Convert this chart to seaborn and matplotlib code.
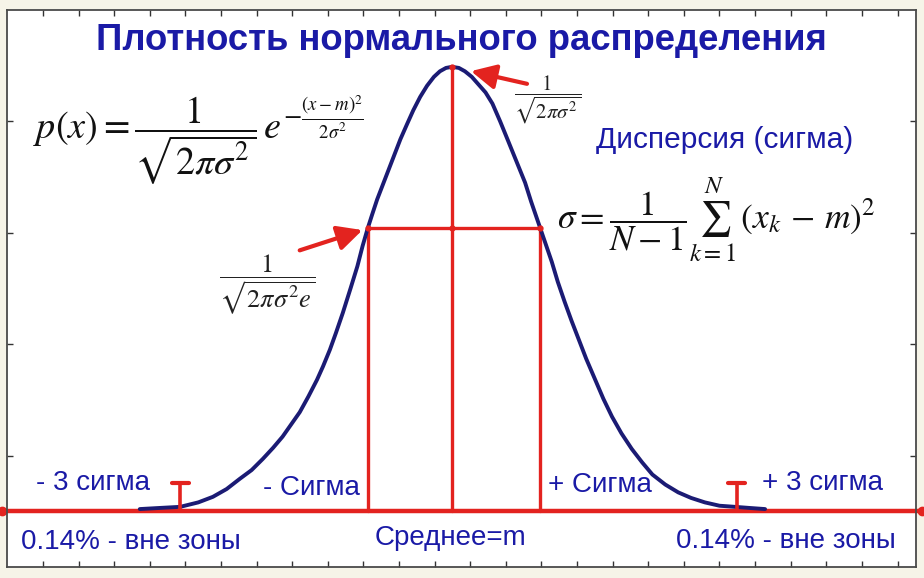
import numpy as np
import pandas as pd
import seaborn as sns
import matplotlib
matplotlib.use('Agg')
import matplotlib.pyplot as plt

sns.set_theme(style='white')
plt.rcParams['font.family'] = ['Liberation Sans', 'DejaVu Sans']
plt.rcParams['mathtext.fontset'] = 'stix'

# curve: x in sigma units around m, y = density
curve_x = [-3.63, -3.40, -3.16, -2.95, -2.78, -2.62, -2.47, -2.33, -2.20, -2.08,
           -1.97, -1.87, -1.77, -1.67, -1.57, -1.50, -1.42, -1.35, -1.27, -1.18,
           -1.10, -1.04, -0.98, -0.93, -0.87, -0.81, -0.76, -0.68, -0.60, -0.52,
           -0.45, -0.37, -0.29, -0.21, -0.14, -0.07, 0.00, 0.08, 0.15, 0.23,
           0.31, 0.39, 0.47, 0.56, 0.65, 0.75, 0.85, 0.92, 1.00, 1.08,
           1.16, 1.23, 1.31, 1.39, 1.47, 1.56, 1.66, 1.76, 1.86, 1.97,
           2.09, 2.21, 2.33, 2.48, 2.63, 2.78, 2.94, 3.11, 3.29, 3.46, 3.64]
curve_y = [0.002, 0.003, 0.004, 0.008, 0.013, 0.020, 0.029, 0.037, 0.047, 0.057,
           0.067, 0.078, 0.089, 0.103, 0.118, 0.130, 0.145, 0.160, 0.178, 0.200,
           0.220, 0.238, 0.254, 0.266, 0.280, 0.292, 0.302, 0.318, 0.334, 0.348,
           0.360, 0.372, 0.382, 0.390, 0.395, 0.398, 0.399, 0.398, 0.395, 0.390,
           0.383, 0.376, 0.366, 0.350, 0.333, 0.314, 0.295, 0.278, 0.260, 0.242,
           0.224, 0.206, 0.188, 0.171, 0.155, 0.137, 0.119, 0.101, 0.085, 0.070,
           0.056, 0.044, 0.033, 0.024, 0.017, 0.012, 0.008, 0.005, 0.004, 0.003, 0.002]

peak_x, peak_y = 0.0, 0.399
sigma_left, sigma_right = -0.98, 1.02
sigma_level = 0.254
three_sigma = [-3.16, 3.31]
marker_h = 0.025
axis_ends = [-5.23, 5.465]

red = '#e3231f'
navy = '#1b1b74'
blue = '#1a1aa6'
W, H = 924, 578

df = pd.DataFrame({'x': curve_x, 'p': curve_y})

fig = plt.figure(figsize=(W / 100, H / 100), dpi=100, facecolor='#f6f4e8')
ax = fig.add_axes([7 / W, 11 / H, 909 / W, 557 / H])
ax.set_facecolor('white')
ax.set_xlim(-5.174, 5.395)
ax.set_ylim(-0.05, 0.45)

# frame with inward ticks on all sides
ax.set_xticks(np.arange(-4.756, 5.2, 0.414))
ax.set_yticks([0.05, 0.15, 0.25, 0.35])
ax.tick_params(direction='in', length=4, width=1, color='#333333',
               top=True, right=True, bottom=True, left=True,
               labelbottom=False, labelleft=False)
for s in ax.spines.values():
    s.set_color('#4a4a4a')
    s.set_linewidth(1.3)

# red axis line
ax.plot(axis_ends, [0, 0], color=red, lw=3.2, solid_capstyle='round',
        clip_on=False, zorder=2)
ax.plot(axis_ends, [0, 0], 'o', color=red, ms=6, clip_on=False, zorder=2)

# sigma box and mean line
ax.plot([sigma_left, sigma_left], [0, sigma_level], color=red, lw=2.4, zorder=2)
ax.plot([sigma_right, sigma_right], [0, sigma_level], color=red, lw=2.4, zorder=2)
ax.plot([sigma_left, sigma_right], [sigma_level, sigma_level], color=red, lw=2.4, zorder=2)
ax.plot([peak_x, peak_x], [0, peak_y], color=red, lw=2.4, zorder=2)
ax.plot([sigma_left, sigma_right, peak_x, peak_x], [sigma_level, sigma_level, sigma_level, peak_y],
        'o', color=red, ms=3.5, zorder=4)

sns.lineplot(data=df, x='x', y='p', ax=ax, color=navy, lw=2.8, zorder=3)
ax.set_xlabel('')
ax.set_ylabel('')

# 3 sigma markers
for t in three_sigma:
    ax.plot([t, t], [0, marker_h], color=red, lw=2.6, zorder=4)
    ax.plot([t - 0.1, t + 0.1], [marker_h, marker_h], color=red, lw=3, zorder=4)

# arrows
arr = dict(arrowstyle='-|>,head_length=1.0,head_width=0.5', color=red, lw=3,
           mutation_scale=15, shrinkA=0)
ax.annotate('', xy=(sigma_left, sigma_level), xytext=(-68, -22),
            textcoords='offset pixels', arrowprops=dict(arr, shrinkB=4), zorder=5)
ax.annotate('', xy=(peak_x, peak_y), xytext=(75, -17),
            textcoords='offset pixels', arrowprops=dict(arr, shrinkB=14), zorder=5)


def ftext(x, y, s, **kw):
    fig.text(x / W, 1 - y / H, s, ha='center', va='center', **kw)


ftext(461, 40, 'Плотность нормального распределения', color=blue,
      fontsize=26.3, fontweight='bold')
ftext(198, 140, r'$p(x) = \dfrac{1}{\sqrt{2\pi\sigma^2}}\,e^{-\frac{(x-m)^2}{2\sigma^2}}$',
      color='#111111', fontsize=27.5)
ftext(548, 100, r'$\dfrac{1}{\sqrt{2\pi\sigma^2}}$', color='#222222', fontsize=15)
ftext(267, 285, r'$\dfrac{1}{\sqrt{2\pi\sigma^2 e}}$', color='#222222', fontsize=19)
ftext(716, 220, r'$\sigma = \dfrac{1}{N-1}\sum_{k=1}^{N}\,(x_k\,-\,m)^2$',
      color='#111111', fontsize=25.5)

ftext(725, 140, 'Дисперсия (сигма)', color=blue, fontsize=21.5)
ftext(93, 483, '- 3 сигма', color=blue, fontsize=20)
ftext(311, 488, '- Сигма', color=blue, fontsize=20)
ftext(600, 485, '+ Сигма', color=blue, fontsize=20)
ftext(823, 483, '+ 3 сигма', color=blue, fontsize=20)
ftext(131, 542, '0.14% - вне зоны', color=blue, fontsize=20)
ftext(451, 538, 'Среднее=m', color=blue, fontsize=20)
ftext(786, 541, '0.14% - вне зоны', color=blue, fontsize=20)

fig.savefig('out.png', dpi=100, facecolor=fig.get_facecolor())
